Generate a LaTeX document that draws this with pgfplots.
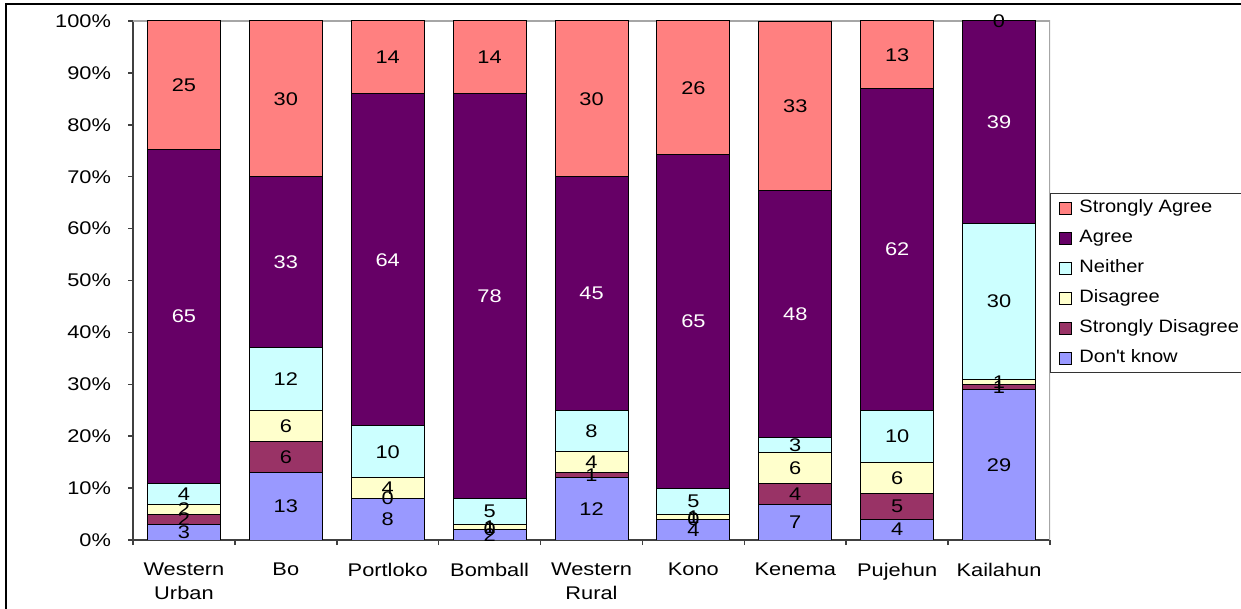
\documentclass[border=0pt]{standalone}
\usepackage{fontspec}
\setmainfont{Liberation Sans}[FakeStretch=1.12]
\newfontfamily\tickfont{Liberation Sans}[FakeStretch=1.19]
\usepackage{pgfplots}
\usepackage{pgfplotstable}
\pgfplotsset{compat=1.18}
\definecolor{cSA}{HTML}{FF8080}
\definecolor{cAG}{HTML}{660066}
\definecolor{cNE}{HTML}{CCFFFF}
\definecolor{cDI}{HTML}{FFFFCC}
\definecolor{cSD}{HTML}{993366}
\definecolor{cDK}{HTML}{9999FF}
\pgfplotstableread{
x dk sd dis nei agr sa dkl sdl disl neil agrl sal
0 2.97 1.98 1.98 3.96 64.36 24.75 3 2 2 4 65 25
1 13 6 6 12 33 30 13 6 6 12 33 30
2 8 0 4 10 64 14 8 0 4 10 64 14
3 2 0 1 5 78 14 2 0 1 5 78 14
4 12 1 4 8 45 30 12 1 4 8 45 30
5 3.96 0 0.99 4.95 64.36 25.74 4 0 1 5 65 26
6 6.93 3.96 5.94 2.97 47.52 32.67 7 4 6 3 48 33
7 4 5 6 10 62 13 4 5 6 10 62 13
8 29 1 1 30 39 0 29 1 1 30 39 0
}\data
\pgfplotsset{
  seg/.style={fill=#1, draw=black, line width=0.5bp},
  base/.style={at={(66.5bp,34.5bp)}, anchor=south west,
    scale only axis, width=458.5bp, height=259.5bp,
    xmin=-0.5, xmax=8.5, ymin=0, ymax=100},
}
\begin{document}
\begin{tikzpicture}
\begin{axis}[
  base,
  ybar stacked, bar width=36.5bp,
  axis x line*=bottom, axis y line*=left,
  axis line style={draw=black!75, line width=0.75bp},
  tick style={draw=black!75, line width=0.75bp},
  tick align=outside, major tick length=2.5bp,
  xtick={-0.5,0.5,1.5,2.5,3.5,4.5,5.5,6.5,7.5,8.5},
  xticklabels={{},{},{},{},{},{},{},{},{},{}},
  extra x ticks={0,1,2,3,4,5,6,7,8},
  extra x tick labels={{Western\\Urban},Bo,Portloko,Bomball,{Western\\Rural},Kono,Kenema,Pujehun,Kailahun},
  extra x tick style={major tick length=0pt},
  xticklabel style={align=center, yshift=-8bp},
  ytick={0,10,...,100},
  yticklabel={\pgfmathprintnumber{\tick}\%},
  yticklabel style={xshift=-5bp},
  /pgf/number format/assume math mode=true,
  tick label style={font=\tickfont\fontsize{9.2}{12}\selectfont},
  reverse legend,
  legend cell align=left,
  legend image code/.code={\draw[#1, draw=black, line width=0.4bp] (0bp,-3bp) rectangle (6bp,3bp); \path (10bp,0bp);},
  legend style={at={(1,0.6686)}, anchor=north west, draw=black!80, line width=0.5bp,
    inner xsep=4bp, inner ysep=3bp, row sep=6.5bp,
    font=\fontsize{9.0}{11}\selectfont,
    nodes={inner sep=0pt, text height=6.6bp, text depth=1.9bp}},
]
\addplot[seg=cDK] table[x=x, y=dk]{\data};
\addplot[seg=cSD] table[x=x, y=sd]{\data};
\addplot[seg=cDI] table[x=x, y=dis]{\data};
\addplot[seg=cNE] table[x=x, y=nei]{\data};
\addplot[seg=cAG] table[x=x, y=agr]{\data};
\addplot[seg=cSA] table[x=x, y=sa]{\data};
\legend{Don\textquotesingle t know, Strongly Disagree, Disagree, Neither, Agree, Strongly Agree}
\draw[black!35, line width=0.75bp] (rel axis cs:0,1) -- (rel axis cs:1,1) -- (rel axis cs:1,0);
\end{axis}
\begin{axis}[
  base, hide axis, clip=false,
  point meta=explicit symbolic,
  nodes near coords={\pgfplotspointmeta},
  every node near coord/.append style={font=\tickfont\fontsize{9.2}{11}\selectfont, anchor=center, inner sep=0pt},
]
\addplot[draw=none, mark=none] table[x=x, y expr=\thisrow{dk}/2, meta=dkl]{\data};
\addplot[draw=none, mark=none] table[x=x, y expr=\thisrow{dk}+\thisrow{sd}/2, meta=sdl]{\data};
\addplot[draw=none, mark=none] table[x=x, y expr=\thisrow{dk}+\thisrow{sd}+\thisrow{dis}/2, meta=disl]{\data};
\addplot[draw=none, mark=none] table[x=x, y expr=\thisrow{dk}+\thisrow{sd}+\thisrow{dis}+\thisrow{nei}/2, meta=neil]{\data};
\addplot[draw=none, mark=none, every node near coord/.append style={text=white}] table[x=x, y expr=\thisrow{dk}+\thisrow{sd}+\thisrow{dis}+\thisrow{nei}+\thisrow{agr}/2, meta=agrl]{\data};
\addplot[draw=none, mark=none] table[x=x, y expr=\thisrow{dk}+\thisrow{sd}+\thisrow{dis}+\thisrow{nei}+\thisrow{agr}+\thisrow{sa}/2, meta=sal]{\data};
\end{axis}
\draw[black, line width=0.75bp] (3bp,0bp) -- (3bp,302.5bp) -- (620.5bp,302.5bp);
\pgfresetboundingbox
\path (0bp,0bp) rectangle (620.5bp,304.5bp);
\end{tikzpicture}
\end{document}
